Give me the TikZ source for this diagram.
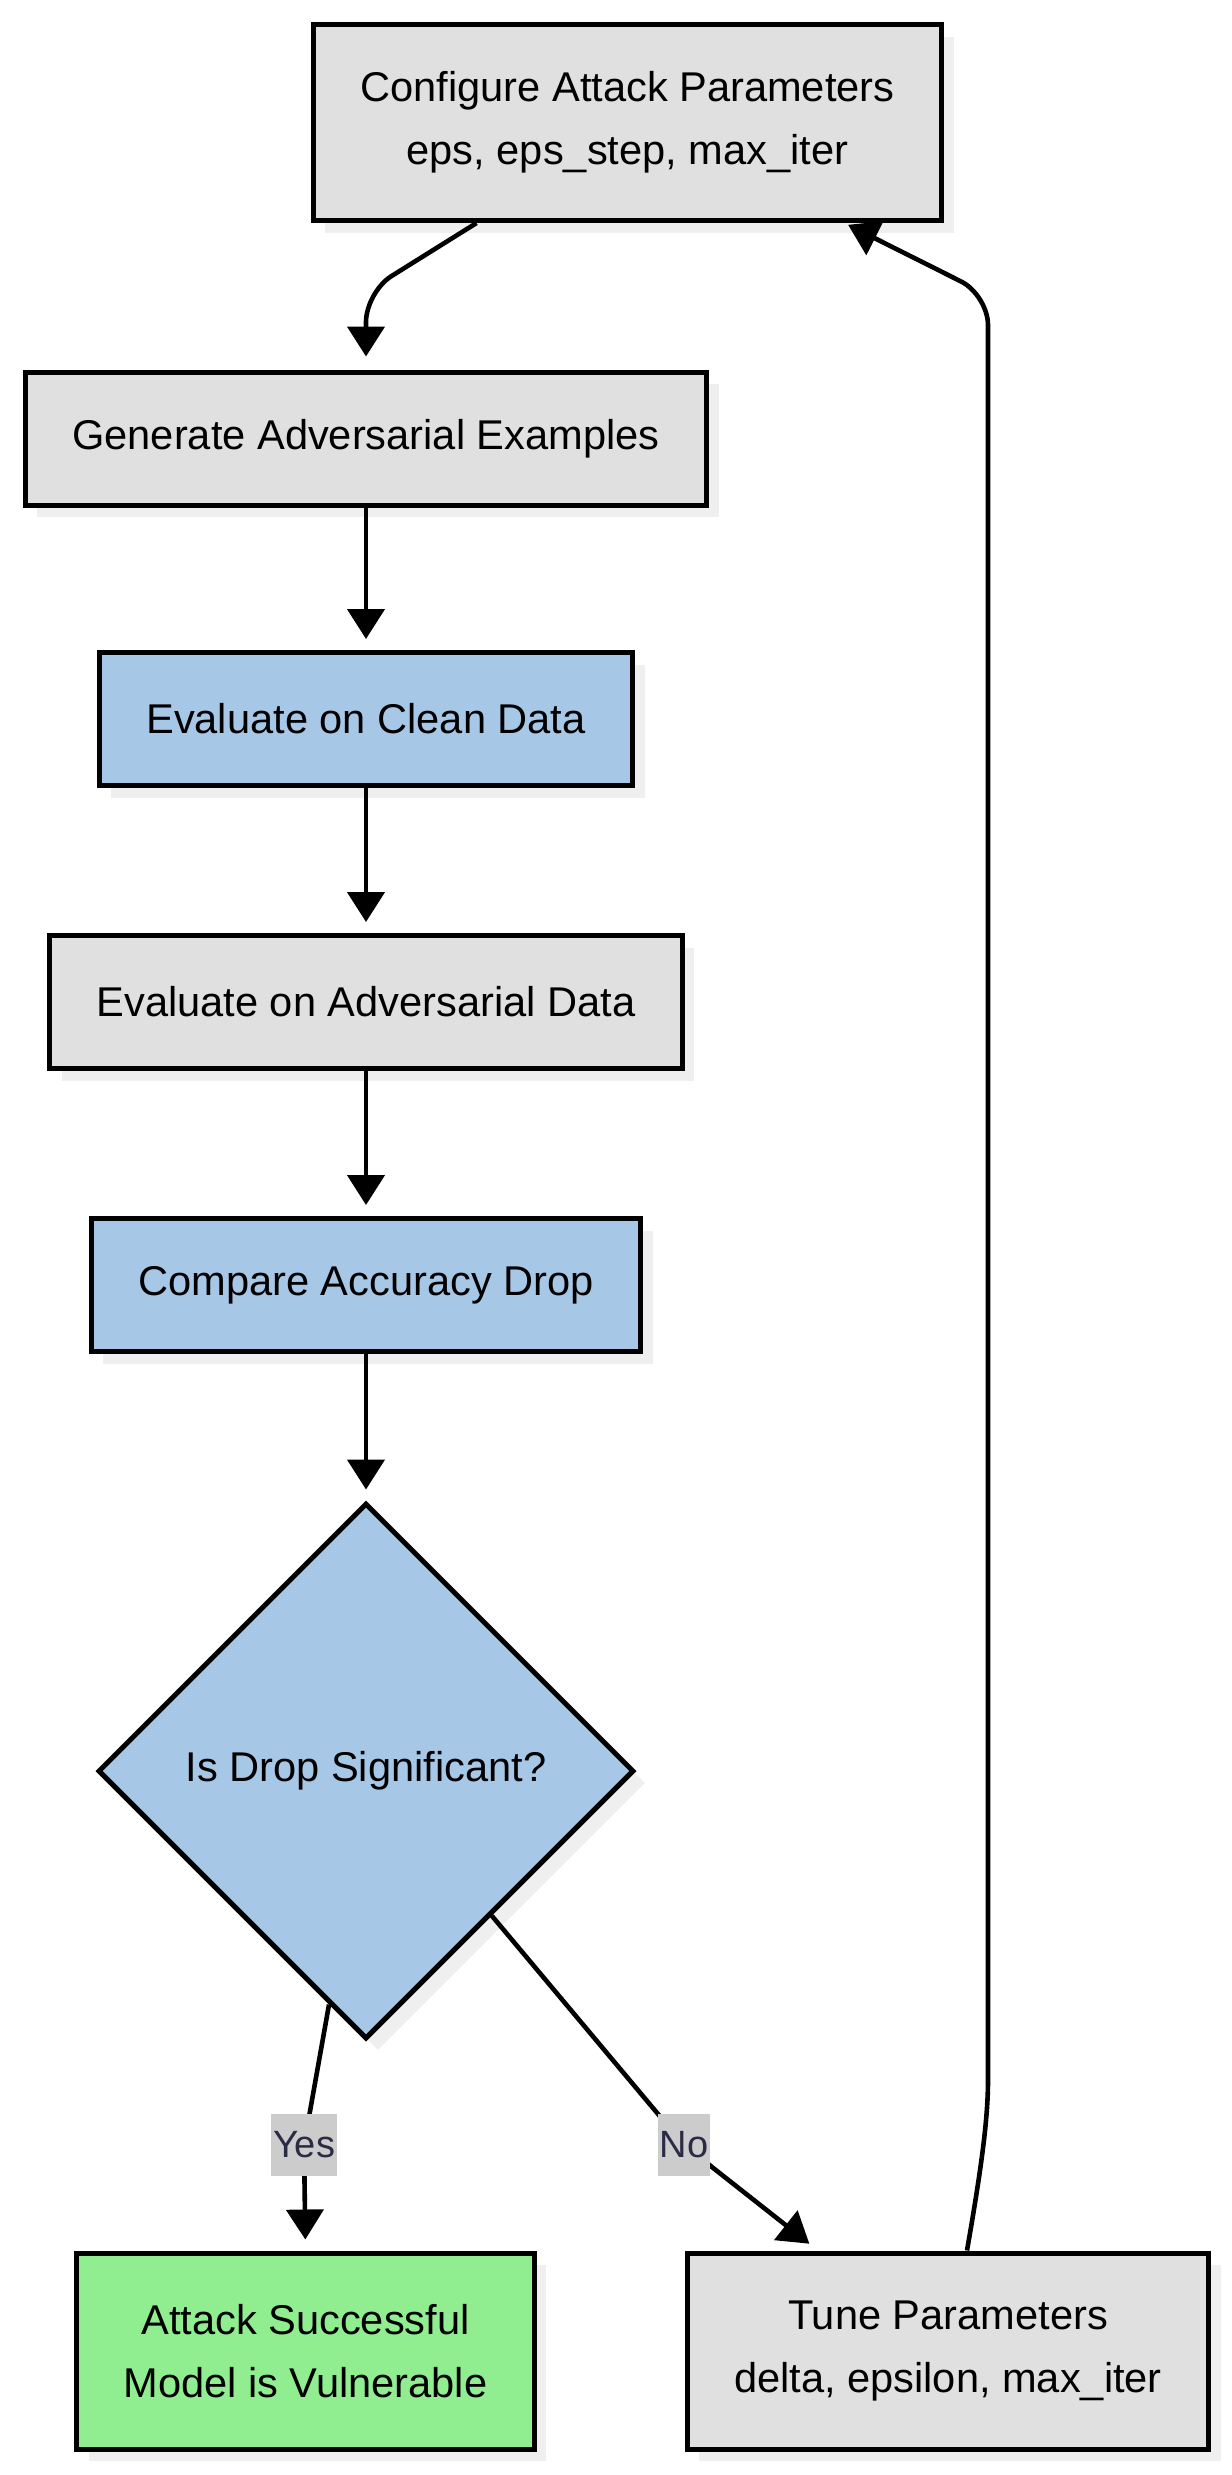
\documentclass[tikz,border=0pt]{standalone}
\usepackage{fontspec}
\setmainfont{Liberation Sans}
\usepackage{tikz}
\usetikzlibrary{shapes.geometric}
\usetikzlibrary{arrows.meta}
\usetikzlibrary{shadows}
\definecolor{boxgray}{HTML}{E0E0E0}
\definecolor{boxblue}{HTML}{A7C7E7}
\definecolor{boxgreen}{HTML}{90EE90}
\definecolor{shadowgray}{HTML}{EFEFEF}
\definecolor{labelgray}{HTML}{CCCCCC}
\definecolor{labelink}{HTML}{2B2B45}

\begin{document}
\begin{tikzpicture}[x=0.5pt, y=-0.5pt,
    box/.style={rectangle, draw=black, line width=2.5pt, inner xsep=23.5pt, inner ysep=0pt,
        minimum height=66.5pt, align=center, font=\fontsize{20.8pt}{31.5pt}\selectfont,
        drop shadow={shadow xshift=6pt, shadow yshift=-6pt, fill=shadowgray, opacity=1}},
    twoline/.style={box, minimum height=98pt},
    decision/.style={diamond, draw=black, line width=2.5pt, fill=boxblue, aspect=1, inner sep=0pt,
        minimum width=268pt, minimum height=268pt, font=\fontsize{20.8pt}{31.5pt}\selectfont,
        drop shadow={shadow xshift=6pt, shadow yshift=-6pt, fill=shadowgray, opacity=1}},
    lbl/.style={sharp corners, fill=labelgray, text=labelink, inner xsep=1pt, inner ysep=0pt,
        minimum height=31pt, font=\fontsize{19pt}{23pt}\selectfont},
    flow/.style={line width=2.3pt, -{Triangle[length=15pt, width=18.5pt]}, shorten >=5.5pt}]
\useasboundingbox (0,0) rectangle (1232,2475);

\node[twoline, fill=boxgray] (cfg) at (627.5,122.5) {Configure Attack Parameters\\eps, eps\_step, max\_iter};
\node[box, fill=boxgray] (gen) at (366,438.5) {Generate Adversarial Examples};
\node[box, fill=boxblue] (clean) at (366,719) {Evaluate on Clean Data};
\node[box, fill=boxgray] (adv) at (366,1002) {Evaluate on Adversarial Data};
\node[box, fill=boxblue] (cmp) at (366,1285) {Compare Accuracy Drop};
\node[decision] (dia) at (366,1771) {Is Drop Significant?};
\node[twoline, fill=boxgreen] (atk) at (305.5,2351) {Attack Successful\\Model is Vulnerable};
\node[twoline, fill=boxgray] (tune) at (948,2351) {Tune Parameters\\delta, epsilon, max\_iter};

\draw[flow, rounded corners=15pt, shorten >=6.5pt] ([xshift=-75.5pt]cfg.south) -- (366,292) -- (gen.north);
\draw[flow] (gen.south) -- (clean.north);
\draw[flow] (clean.south) -- (adv.north);
\draw[flow] (adv.south) -- (cmp.north);
\draw[flow] (cmp.south) -- (dia.north);
\draw[flow, rounded corners=10pt] (dia.-99) -- (304,2145) node[lbl] {Yes} -- (atk.north);
\draw[flow, rounded corners=20pt] (dia.-49) -- (684,2145) node[lbl] {No} -- ([xshift=-65pt]tune.north);
\draw[flow, rounded corners=15pt, shorten >=2pt] ([xshift=9.5pt]tune.north) .. controls (981,2170) and (988,2120) .. (988,2050) -- (988,295) -- ([xshift=108.5pt]cfg.south);

\end{tikzpicture}
\end{document}
